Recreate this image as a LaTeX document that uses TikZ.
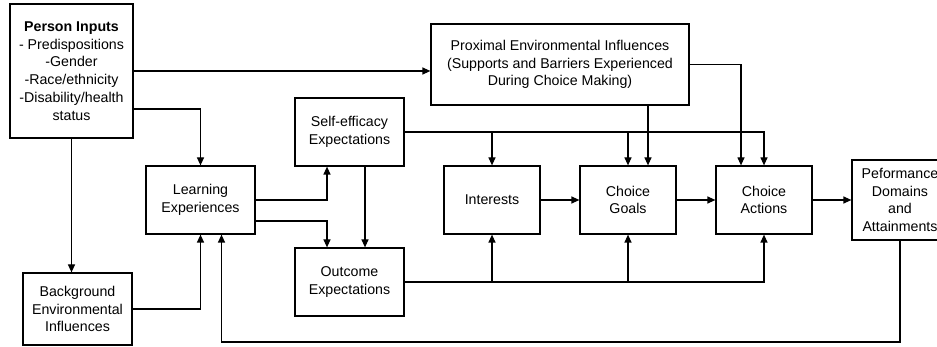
\documentclass[tikz,border=0pt]{standalone}
\usepackage{fontspec}
\setmainfont{Liberation Sans}
\usetikzlibrary{arrows.meta}

\begin{document}
\begin{tikzpicture}[x=1pt,y=-1pt,
		box/.style={draw,line width=1.2pt,align=center,inner sep=1pt,
			font=\fontsize{14.2pt}{17.8pt}\selectfont},
		arr/.style={-{Triangle[length=8pt,width=7pt]},line width=1.2pt}]
		\useasboundingbox (0,0) rectangle (937,347);
		\clip (0,0) rectangle (937,347);
		% boxes
		\node[box,minimum width=123,minimum height=134] (person) at (71.5,71)
			{\textbf{Person Inputs}\\- Predispositions\\-Gender\\-Race/ethnicity\\-Disability/health\\status};
		\node[box,minimum width=258,minimum height=81] (prox) at (560,64.5)
			{Proximal Environmental Influences\\(Supports and Barriers Experienced\\During Choice Making)};
		\node[box,minimum width=109,minimum height=68] (self) at (349.5,132) {Self-efficacy\\Expectations};
		\node[box,minimum width=109,minimum height=68] (learn) at (200.5,200) {Learning\\Experiences};
		\node[box,minimum width=109,minimum height=68] (outc) at (349.5,282) {Outcome\\Expectations};
		\node[box,minimum width=109,minimum height=72] (backg) at (77.5,309) {Background\\Environmental\\Influences};
		\node[box,minimum width=96,minimum height=68] (inter) at (492,200) {Interests};
		\node[box,minimum width=96,minimum height=68] (goals) at (628,200) {Choice\\Goals};
		\node[box,minimum width=96,minimum height=68] (actions) at (764,200) {Choice\\Actions};
		\node[box,minimum width=96,minimum height=80] (perf) at (900,200) {Peformance\\Domains\\and\\Attainments};
		\coordinate (fb) at (900,342);

		% person inputs
		\draw[arr] (person.east) -- (person.east -| prox.west);
		\draw[arr] ([yshift=-38pt]person.east) -| (learn.north);
		\draw[arr] (person.south) -- (person.south |- backg.north);
		\draw[arr] (backg.east) -| (learn.south);
		% learning
		\draw[arr] (learn.east) -| ([xshift=-22.5pt]self.south);
		\draw[arr] ([yshift=-21pt]learn.east) -| ([xshift=-22.5pt]outc.north);
		\draw[arr] ([xshift=15.5pt]self.south) -- ([xshift=15.5pt]outc.north);
		% self-efficacy
		\draw[arr] (self.east) -| (actions.north);
		\draw[arr] (self.east -| inter.north) -- (inter.north);
		\draw[arr] (self.east -| goals.north) -- (goals.north);
		% outcome
		\draw[arr] (outc.east) -| (actions.south);
		\draw[arr] (outc.east -| inter.south) -- (inter.south);
		\draw[arr] (outc.east -| goals.south) -- (goals.south);
		% proximal
		\draw[arr] ([xshift=20pt]goals.north |- prox.south) -- ([xshift=20pt]goals.north);
		\draw[arr] (prox.east) -| ([xshift=-23pt]actions.north);
		% choice chain
		\draw[arr] (inter.east) -- (goals.west);
		\draw[arr] (goals.east) -- (actions.west);
		\draw[arr] (actions.east) -- (perf.west);
		\draw[arr] (perf.south) -- (fb) -| ([xshift=21pt]learn.south);
	\end{tikzpicture}
\end{document}
